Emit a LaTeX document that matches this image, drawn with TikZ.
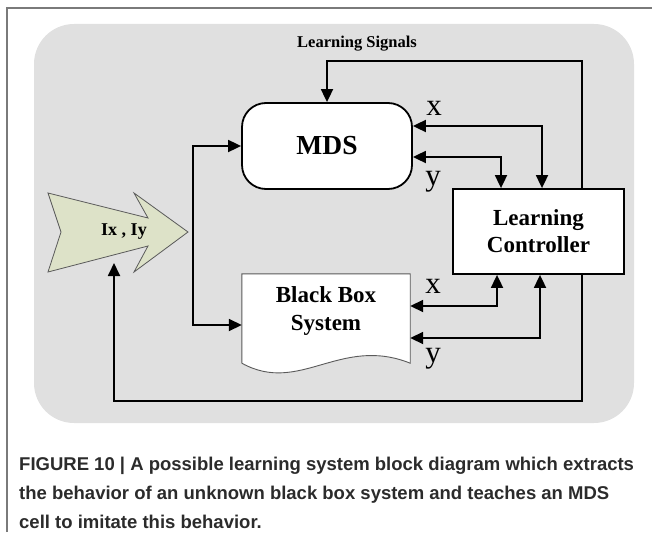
\documentclass[tikz,border=0pt]{standalone}
\usepackage{fontspec}
\setmainfont{Liberation Serif}
\newfontfamily\capfont{Liberation Sans}
\usetikzlibrary{arrows.meta}
\definecolor{bggray}{HTML}{E0E0E0}
\definecolor{ixfill}{HTML}{DDE2C8}
\definecolor{capcol}{HTML}{2B2B2B}
\definecolor{framecol}{HTML}{7A7A7A}
\definecolor{thingray}{HTML}{5A5A5A}
\begin{document}
\begin{tikzpicture}[x=1pt,y=-1pt,
  >={Triangle[length=13pt,width=12pt]},
  conn/.style={line width=1.8pt, draw=black},
  mdsbox/.style={draw, line width=1.8pt, fill=white, rounded corners=24pt,
    minimum width=170pt, minimum height=86pt, inner sep=0pt,
    font=\bfseries\fontsize{27.5}{31}\selectfont},
  lcbox/.style={draw, line width=1.8pt, fill=white, minimum width=171pt,
    minimum height=85pt, inner sep=0pt, align=center,
    font=\bfseries\fontsize{23}{27}\selectfont},
  bbarea/.style={minimum width=168pt, minimum height=89pt, inner sep=0pt},
  docline/.style={draw=thingray, line width=0.9pt, fill=white},
  bbtext/.style={align=center, inner sep=0pt, font=\bfseries\fontsize{23}{28}\selectfont},
  ixline/.style={draw=thingray, line width=0.8pt, fill=ixfill},
  ixtext/.style={inner sep=0pt, font=\bfseries\fontsize{18}{22}\selectfont},
  sigtext/.style={inner sep=0pt, font=\bfseries\fontsize{16.5}{20}\selectfont},
  lbl/.style={inner sep=0pt, anchor=base, font=\fontsize{31}{36}\selectfont},
  captext/.style={inner sep=0pt, anchor=base west, text=capcol,
    font=\capfont\bfseries\fontsize{18.5}{22}\selectfont}
]
\useasboundingbox (0,0) rectangle (652,532);
% background panel and figure frame
\fill[bggray, rounded corners=40pt] (34,24) rectangle (634,423);
\draw[framecol, line width=1.5pt] (7,532) -- (7,8) -- (652,8);

% blocks
\node[mdsbox] (mds) at (327,146) {MDS};
\node[lcbox] (lc) at (538.5,231.5) {Learning\\Controller};
\node[bbarea] (bb) at (326,318.5) {};
\draw[docline] (bb.south west) -- (bb.north west) -- (bb.north east) -- (bb.south east)
  .. controls +(-70,-28) and +(58,32) .. (bb.south west);
\node[bbtext] (bbl) at (326,311) {Black Box\\System};

% input arrow shape
\draw[ixline] (48,193) -- (148,218) -- (134,193) -- (188,232) -- (134,272)
  -- (148,246) -- (48,272) -- (61,232) -- cycle;
\node[ixtext] (ix) at (124,232) {Ix , Iy};

% helper coordinates
\coordinate (jb) at (193,325);
\coordinate (ls) at (582,61);
\coordinate (xt) at (542,126);
\coordinate (yt) at (501,157);
\coordinate (xb) at (497,306);
\coordinate (yb) at (540,338);
\coordinate (fb) at (582,401);
\coordinate (ixin) at (114,263);

% connectors
\draw[conn,<->] (mds.west) -| (jb) -- (bb.west |- jb);
\draw[conn,->] (lc.north -| ls) -- (ls) -| (mds.north);
\draw[conn,<->] (mds.east |- xt) -| (lc.north -| xt);
\draw[conn,<->] (mds.east |- yt) -| (lc.north -| yt);
\draw[conn,<->] (bb.east |- xb) -| (lc.south -| xb);
\draw[conn,<->] (bb.east |- yb) -| (lc.south -| yb);
\draw[conn,->] (lc.south -| fb) -- (fb) -| (ixin);

% labels
\node[sigtext] (lsig) at (357,44) {Learning Signals};
\node[lbl] (xlt) at (434,115) {x};
\node[lbl] (ylt) at (433,185) {y};
\node[lbl] (xlb) at (433,293) {x};
\node[lbl] (ylb) at (433,362) {y};

% caption
\node[captext] (cap1) at (19,470) {FIGURE 10 | A possible learning system block diagram which extracts};
\node[captext] (cap2) at (19,499) {the behavior of an unknown black box system and teaches an MDS};
\node[captext] (cap3) at (19,528) {cell to imitate this behavior.};
\end{tikzpicture}
\end{document}
